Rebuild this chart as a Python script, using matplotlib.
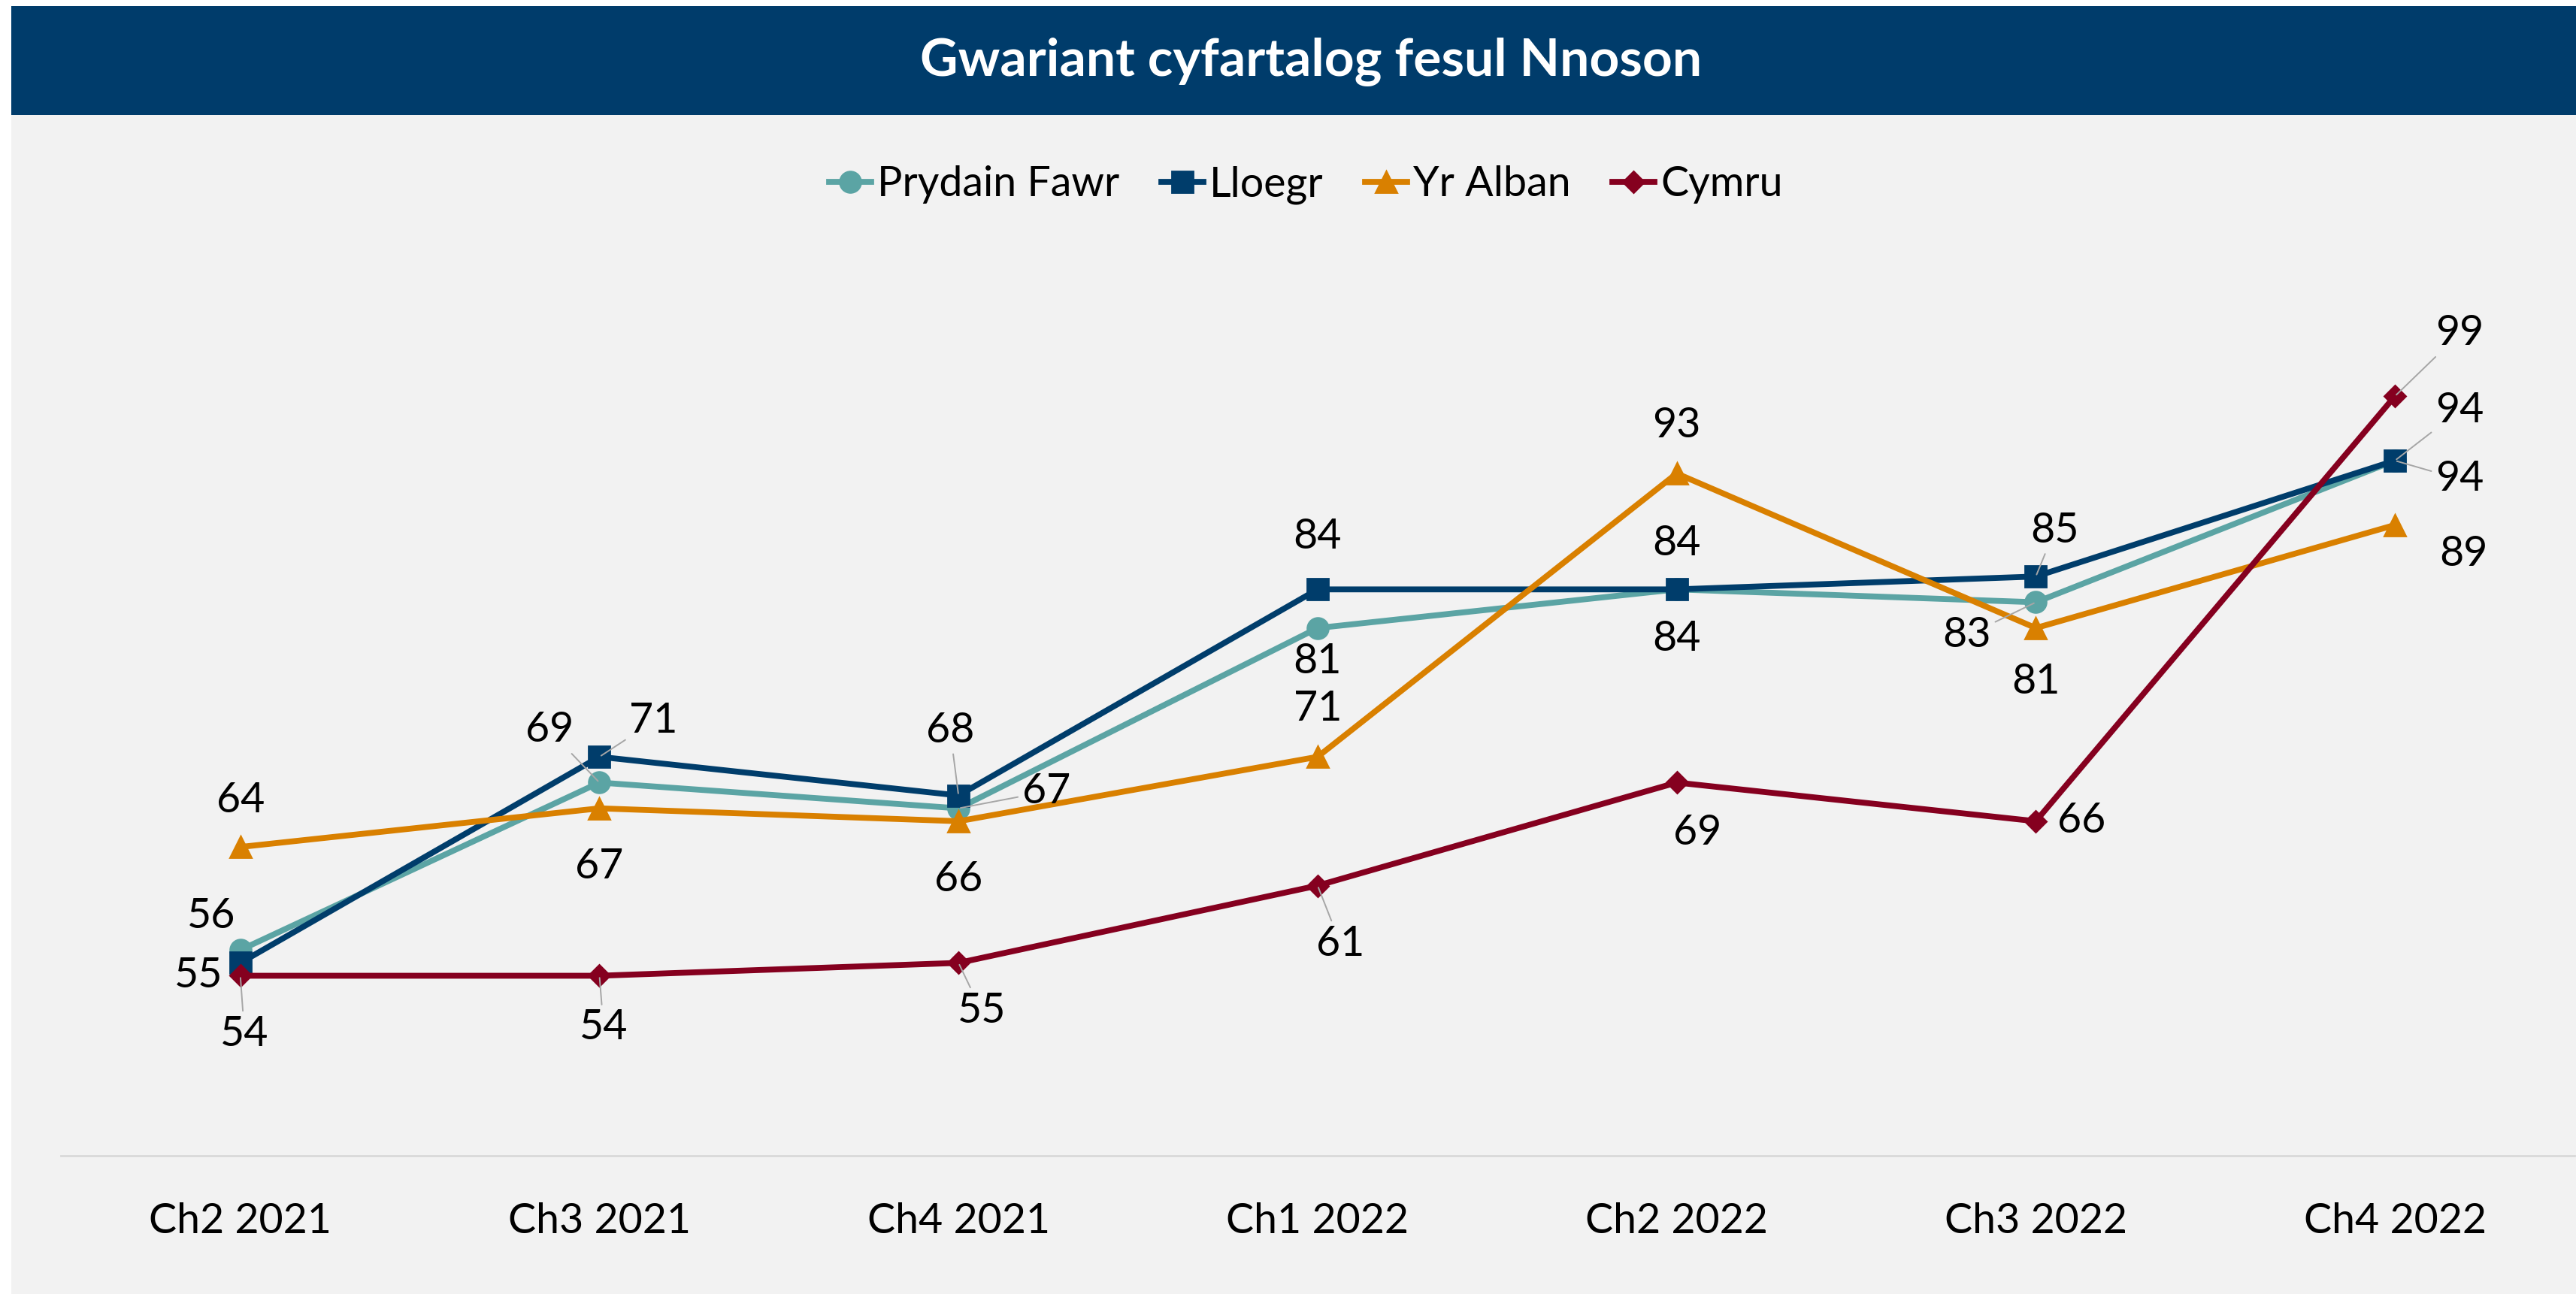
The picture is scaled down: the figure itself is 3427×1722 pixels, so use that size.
import matplotlib.pyplot as plt
from matplotlib.patches import Rectangle

plt.rcParams['font.family'] = ['Lato', 'DejaVu Sans']

quarters = ['Ch2 2021', 'Ch3 2021', 'Ch4 2021', 'Ch1 2022', 'Ch2 2022', 'Ch3 2022', 'Ch4 2022']
series_names = ['Prydain Fawr', 'Lloegr', 'Yr Alban', 'Cymru']
prydain_fawr = [56, 69, 67, 81, 84, 83, 94]
lloegr = [55, 71, 68, 84, 84, 85, 94]
yr_alban = [64, 67, 66, 71, 93, 81, 89]
cymru = [54, 54, 55, 61, 69, 66, 99]

colors = ['#5BA4A4', '#003D6B', '#D98000', '#85001F']
markers = ['o', 's', '^', 'D']
msizes = [10, 10, 10, 7]

# label offsets in points (dx, dy) and whether Excel drew a leader line
label_pos = {
    'Prydain Fawr': [(-14, 16, 0), (-24, 25, 1), (42, 8, 1), (0, -16, 0), (0, -24, 0), (-33, -16, 1), (31, -9, 1)],
    'Lloegr': [(-20, -6, 0), (26, 17, 1), (-4, 31, 1), (0, 25, 0), (0, 22, 0), (9, 22, 1), (31, 24, 1)],
    'Yr Alban': [(0, 22, 0), (0, -28, 0), (0, -28, 0), (0, 23, 0), (0, 23, 0), (0, -26, 0), (33, -14, 0)],
    'Cymru': [(2, -28, 1), (2, -25, 1), (11, -23, 1), (11, -28, 1), (10, -24, 0), (22, 0, 0), (31, 30, 1)],
}

fig = plt.figure(figsize=(17.135, 8.61), dpi=200, facecolor='white')
fig.patches.append(Rectangle((0.0044, 0), 1, 0.911, transform=fig.transFigure,
                             facecolor='#F2F2F2', edgecolor='none', zorder=-2))
fig.patches.append(Rectangle((0.0044, 0.911), 1, 0.0844, transform=fig.transFigure,
                             facecolor='#003C6B', edgecolor='none', zorder=-1))
fig.text(0.509, 0.952, 'Gwariant cyfartalog fesul Nnoson', color='white',
         fontsize=25, fontweight='bold', ha='center', va='center')

ax = fig.add_axes([0.0236, 0.1066, 0.9758, 0.6967])
ax.set_facecolor('none')

x = list(range(len(quarters)))
all_vals = [prydain_fawr, lloegr, yr_alban, cymru]
for name, vals, c, m, ms in zip(series_names, all_vals, colors, markers, msizes):
    ax.plot(x, vals, color=c, lw=2.8, marker=m, markersize=ms, label=name, zorder=3)
    for xi, v, (dx, dy, lead) in zip(x, vals, label_pos[name]):
        arrow = None
        if lead:
            arrow = dict(arrowstyle='-', color='#A6A6A6', lw=0.7, shrinkA=0, shrinkB=1)
        ax.annotate(str(v), (xi, v), xytext=(dx, dy), textcoords='offset points',
                    ha='center', va='center', fontsize=20, color='black',
                    arrowprops=arrow, zorder=4)

ax.set_xlim(-0.5, 6.5)
ax.set_ylim(40, 110)
ax.set_xticks(x)
ax.set_xticklabels(quarters, fontsize=20)
ax.tick_params(axis='x', length=0, pad=22)
ax.set_yticks([])
for s in ['top', 'right', 'left']:
    ax.spines[s].set_visible(False)
ax.spines['bottom'].set_color('#D9D9D9')
ax.spines['bottom'].set_linewidth(1.0)

fig.legend(loc='center', bbox_to_anchor=(0.507, 0.857), ncol=4, frameon=False,
           fontsize=20, handlelength=1.0, handletextpad=0.15, columnspacing=1.0)

fig.savefig('out.png', dpi=200, facecolor=fig.get_facecolor())
